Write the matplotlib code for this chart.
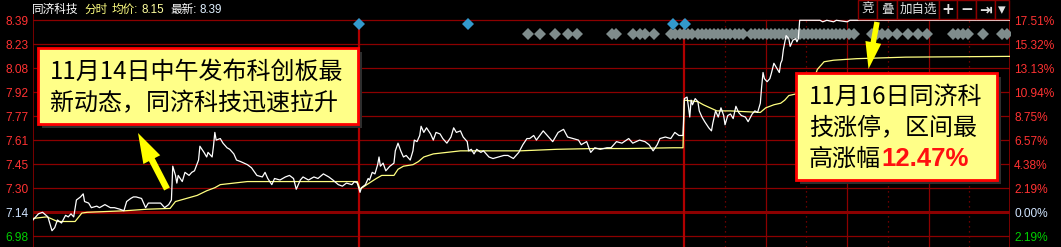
import numpy as np
import matplotlib
matplotlib.use("Agg")
import matplotlib.pyplot as plt
from matplotlib.patches import Rectangle, FancyArrow
from matplotlib.transforms import IdentityTransform

plt.rcParams['font.family'] = ['Liberation Sans', 'Noto Sans CJK SC', 'DejaVu Sans']

W, H = 1061, 247

# three sessions of 240 minutes, minute index -> price
price_min = [0, 4, 7, 11, 14, 16, 18, 21, 24, 26, 28, 30, 32, 35, 37, 38, 41, 43, 47, 49,
             53, 57, 60, 64, 67, 69, 72, 74, 76, 80, 83, 85, 89, 94, 97, 100, 102, 103, 105, 106,
             107, 110, 112, 115, 117, 119, 122, 123, 126, 128, 129, 132, 133, 134, 135, 138, 140, 143, 145, 148,
             150, 153, 158, 161, 165, 169, 171, 173, 176, 178, 182, 186, 189, 192, 194, 197, 199, 203, 207, 210,
             214, 218, 221, 225, 228, 231, 235, 237, 239,
             241, 242, 245, 247, 248, 250, 252, 254, 255, 256, 258, 260, 263, 266, 267, 269, 271, 273, 275, 278,
             280, 281, 283, 285, 286, 288, 290, 293, 295, 297, 300, 302, 305, 308, 310, 312, 315, 317, 320, 321,
             323, 325, 327, 330, 332, 336, 339, 343, 347, 350, 354, 358, 361, 364, 366, 369, 371, 376, 380, 383,
             387, 391, 394, 398, 402, 404, 408, 411, 414, 418, 423, 426, 430, 434, 439, 442, 447, 451, 454, 457,
             460, 462, 466, 470, 473, 476, 479,
             480, 482, 483, 484, 485, 486, 488, 490, 491, 493, 495, 498, 500, 501, 503, 505, 507, 509, 510, 512,
             514, 516, 518, 520, 522, 525, 527, 530, 532, 534, 536, 537, 538, 539, 541, 543, 544, 546, 548, 550,
             551, 552, 553, 555, 557, 558, 560, 562, 563, 564, 565, 580, 582, 585, 590, 592, 600, 602, 720]
price_val = [7.09, 7.13, 7.14, 7.11, 7.02, 7.04, 7.09, 7.07, 7.12, 7.11, 7.13, 7.11, 7.22, 7.24, 7.26, 7.21, 7.20, 7.17, 7.18, 7.17,
             7.19, 7.17, 7.17, 7.16, 7.15, 7.21, 7.23, 7.24, 7.24, 7.23, 7.17, 7.20, 7.20, 7.20, 7.17, 7.19, 7.22, 7.44, 7.38, 7.33,
             7.38, 7.34, 7.40, 7.38, 7.40, 7.41, 7.48, 7.57, 7.53, 7.50, 7.53, 7.50, 7.57, 7.66, 7.61, 7.62, 7.59, 7.56, 7.55, 7.52,
             7.48, 7.47, 7.45, 7.43, 7.38, 7.37, 7.40, 7.36, 7.32, 7.36, 7.35, 7.37, 7.38, 7.36, 7.29, 7.35, 7.37, 7.35, 7.37, 7.36,
             7.39, 7.37, 7.35, 7.32, 7.31, 7.33, 7.32, 7.34, 7.33,
             7.27, 7.30, 7.32, 7.36, 7.35, 7.40, 7.39, 7.45, 7.50, 7.44, 7.46, 7.41, 7.44, 7.46, 7.54, 7.59, 7.54, 7.50, 7.51, 7.48,
             7.54, 7.61, 7.60, 7.64, 7.70, 7.66, 7.69, 7.65, 7.61, 7.66, 7.65, 7.62, 7.59, 7.63, 7.69, 7.66, 7.67, 7.63, 7.60, 7.54,
             7.55, 7.52, 7.55, 7.53, 7.54, 7.50, 7.49, 7.50, 7.51, 7.51, 7.49, 7.53, 7.58, 7.62, 7.62, 7.64, 7.61, 7.67, 7.63, 7.60,
             7.66, 7.68, 7.63, 7.62, 7.61, 7.58, 7.60, 7.53, 7.56, 7.55, 7.56, 7.56, 7.60, 7.59, 7.62, 7.59, 7.61, 7.60, 7.58, 7.54,
             7.58, 7.62, 7.63, 7.62, 7.66, 7.64, 7.64,
             7.88, 7.89, 7.83, 7.76, 7.87, 7.84, 7.88, 7.86, 7.80, 7.76, 7.73, 7.69, 7.67, 7.72, 7.80, 7.76, 7.82, 7.77, 7.71, 7.77,
             7.78, 7.75, 7.83, 7.79, 7.77, 7.76, 7.73, 7.78, 7.80, 7.79, 7.85, 7.96, 8.05, 8.01, 7.99, 8.01, 8.04, 8.11, 8.08, 8.05,
             8.11, 8.13, 8.20, 8.29, 8.27, 8.22, 8.26, 8.27, 8.25, 8.27, 8.39, 8.39, 8.38, 8.39, 8.38, 8.39, 8.38, 8.39, 8.39]

avg_min = [0, 10, 13, 18, 31, 36, 40, 68, 84, 101, 105, 113, 121, 128, 134, 138, 148, 158, 239,
           241, 246, 253, 257, 266, 269, 273, 280, 284, 288, 295, 305, 315, 334, 359, 386, 413, 438, 472, 479,
           480, 490, 494, 499, 504, 514, 536, 540, 546, 551, 554, 557, 562, 576, 578, 583, 590, 607, 643, 720]
avg_val = [7.10, 7.11, 7.10, 7.08, 7.08, 7.135, 7.14, 7.15, 7.16, 7.165, 7.21, 7.23, 7.25, 7.28, 7.30, 7.32, 7.33, 7.34, 7.34,
           7.29, 7.32, 7.36, 7.38, 7.38, 7.42, 7.44, 7.45, 7.47, 7.50, 7.52, 7.53, 7.54, 7.54, 7.54, 7.55, 7.555, 7.555, 7.56, 7.56,
           7.87, 7.86, 7.84, 7.82, 7.80, 7.80, 7.79, 7.82, 7.84, 7.85, 7.87, 7.90, 7.91, 8.02, 8.07, 8.12, 8.13, 8.14, 8.15, 8.155]

blue_marks = [240.5, 320.5, 472, 480.5]
gray_marks = [365, 374, 385, 394, 401, 427, 430, 442, 447, 451, 458, 470, 473,
              477, 480, 483, 486, 490, 493, 496, 499, 502, 505, 508, 511, 514, 517, 520, 523,
              529, 532, 535, 538, 541, 544, 547, 550, 553, 556, 559, 562, 565, 568, 571, 574,
              577, 580, 583, 586, 589, 592, 595, 598, 601, 605,
              618, 622, 626, 630, 637, 645, 652, 659, 678, 682, 685, 689, 700, 714, 718]

pre_close = 7.14
grid_prices = np.linspace(6.984, 8.39, 10)[::-1]
left_labels = ['8.39', '8.23', '8.08', '7.92', '7.77', '7.61', '7.45', '7.30', '7.14', '6.98']
pct_labels = ['17.51%', '15.32%', '13.13%', '10.94%', '8.75%', '6.57%', '4.38%', '2.19%', '0.00%', '2.19%']
day_breaks = [240, 480]
hour_lines = [540, 600, 660]
half_lines = [510, 570, 630, 690]

GRID = '#8c0000'


def fx(x):
    return x / W


def fy(y):
    return 1 - y / H


fig = plt.figure(figsize=(W / 100, H / 100), dpi=100, facecolor='black')
ax = fig.add_axes([fx(33), 0, (1010 - 33) / W, 1])
ax.set_facecolor('black')
ax.set_xlim(0, 720)
ax.set_ylim(6.914, 8.522)
for s in ax.spines.values():
    s.set_visible(False)
ax.set_xticks([])

top_frac = (8.39 - 6.914) / (8.522 - 6.914)
for p in grid_prices:
    lw = 2.2 if abs(p - pre_close) < 0.01 else 0.9
    ax.axhline(p, color=GRID, lw=lw, zorder=1)
ax.axvline(0, ymax=fy(15), color=GRID, lw=1.2, zorder=1)
ax.axvline(720, ymax=top_frac, color=GRID, lw=1.2, zorder=1)
for d in day_breaks:
    ax.axvline(d, ymax=top_frac, color='#b00000', lw=1.6, zorder=1.5)
for h in hour_lines:
    ax.axvline(h, ymax=top_frac, color=GRID, lw=0.9, zorder=1)
for h in half_lines:
    ax.axvline(h, ymax=top_frac, color=GRID, lw=0.9, ls=(0, (1, 3)), zorder=1)

trans = ax.get_xaxis_transform()
ax.plot(gray_marks, [fy(34.3)] * len(gray_marks), 'D', color='#7f8c8c', ms=5.8,
        mew=0, transform=trans, zorder=2)
ax.plot(blue_marks, [fy(24.3)] * len(blue_marks), 'D', color='#3399cc', ms=6,
        mew=0, transform=trans, zorder=2)

ax.plot(avg_min, avg_val, color='#ffff80', lw=0.9, zorder=3)
ax.plot(price_min, price_val, color='white', lw=0.9, zorder=4)

ax.set_yticks(grid_prices)
ax.set_yticklabels(left_labels, fontsize=8.6)
ax.tick_params(axis='y', length=0, pad=3)
for i, t in enumerate(ax.get_yticklabels()):
    t.set_color('#ff3232' if i < 8 else ('#d0e4ff' if i == 8 else '#00d000'))

ax2 = ax.twinx()
ax2.set_ylim(ax.get_ylim())
for s in ax2.spines.values():
    s.set_visible(False)
ax2.set_yticks(grid_prices)
ax2.set_yticklabels(pct_labels, fontsize=8.6)
ax2.tick_params(axis='y', length=0, pad=3)
for i, t in enumerate(ax2.get_yticklabels()):
    t.set_color('#ff3232' if i < 8 else ('#d0e4ff' if i == 8 else '#00d000'))

# header
hdr = [('同济科技', 32, 'white'), ('分时', 84, '#ffff80'), ('均价:', 112, '#ffff80'),
       ('8.15', 142, '#ffffa0'), ('最新:', 170, 'white'), ('8.39', 200, '#e0f0ff')]
for txt, x, c in hdr:
    fig.text(fx(x), fy(10), txt, color=c, fontsize=8.4, va='center', ha='left')

# buttons
buttons = [('竞', 858, 877), ('叠', 877, 897), ('加自选', 897, 939), ('+', 939, 957),
           ('−', 957, 976), ('⇥', 976, 995), ('▾', 995, 1009)]
for txt, x0, x1 in buttons:
    fig.add_artist(Rectangle((fx(x0), fy(19)), fx(x1 - x0), 19 / H, transform=fig.transFigure,
                             facecolor='black', edgecolor=GRID, lw=1, zorder=5))
    bold = txt in '+−⇥▾'
    fig.text(fx((x0 + x1) / 2), fy(9.5), txt, color='#e0e0e0', fontsize=11 if bold else 9,
             fontweight='bold' if bold else 'normal', ha='center', va='center', zorder=6,
             family=['DejaVu Sans'] if bold else ['Noto Sans CJK SC'])


def callout(x0, y0, x1, y1):
    fig.add_artist(Rectangle((fx(x0 + 4), fy(y1 + 4)), fx(x1 - x0), (y1 - y0) / H,
                             transform=fig.transFigure, facecolor='#2e2e2e', lw=0, zorder=7))
    fig.add_artist(Rectangle((fx(x0), fy(y1)), fx(x1 - x0), (y1 - y0) / H,
                             transform=fig.transFigure, facecolor='#ffff88', edgecolor='#ff0000',
                             lw=2, zorder=8))


cjk = ['Noto Sans CJK SC', 'DejaVu Sans']
callout(38, 48, 358, 124)
fig.text(fx(50), fy(72), '11月14日中午发布科创板最', fontsize=17.3, family=cjk,
         color='black', va='center', zorder=9)
fig.text(fx(50), fy(103), '新动态，同济科技迅速拉升', fontsize=17.3, family=cjk,
         color='black', va='center', zorder=9)

callout(796, 73, 997, 180)
fig.text(fx(809), fy(97), '11月16日同济科', fontsize=17.3, family=cjk, color='black', va='center', zorder=9)
fig.text(fx(809), fy(128.5), '技涨停，区间最', fontsize=17.3, family=cjk, color='black', va='center', zorder=9)
fig.text(fx(809), fy(159), '高涨幅', fontsize=17.3, family=cjk, color='black', va='center', zorder=9)
fig.text(fx(881), fy(159), '12.47%', fontsize=18.5, fontweight='bold', color='#ff1010',
         va='center', zorder=9)


def arrow(xt, yt, xh, yh, width, hw, hl):
    a = FancyArrow(xt, H - yt, xh - xt, -(yh - yt), width=width, head_width=hw, head_length=hl,
                   length_includes_head=True, transform=IdentityTransform(),
                   facecolor='#ffff00', edgecolor='none', zorder=10)
    fig.add_artist(a)


arrow(167, 189, 138, 133, 6.5, 19, 30)
arrow(877, 22, 868.5, 69, 5.5, 16, 27)

fig.savefig('out.png', dpi=100, facecolor='black')
